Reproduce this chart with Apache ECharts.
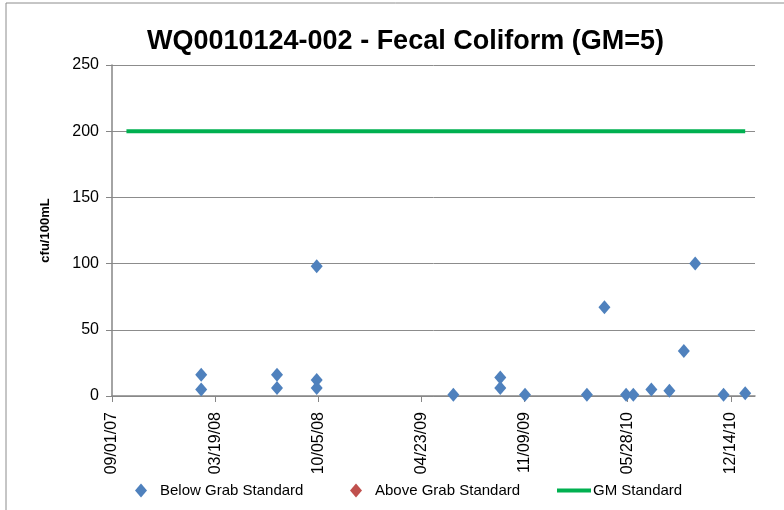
<!DOCTYPE html>
<html>
<head>
<meta charset="utf-8">
<script src="https://cdn.jsdelivr.net/npm/echarts@6/dist/echarts.min.js"></script>
<style>html,body{margin:0;padding:0;background:#fff}#c{width:784px;height:510px}</style>
</head>
<body>
<div id="c"></div>
<script>
var titleText = 'WQ0010124-002 - Fecal Coliform (GM=5)';
var yAxisName = 'cfu/100mL';
var axisStart = '2007-09-01';
var axisEnd = '2011-01-30';
var tickDays = 200;
var yTicks = [0, 50, 100, 150, 200, 250];

var belowDates = ['2008-02-21','2008-02-21','2008-07-17','2008-07-17','2008-10-02','2008-10-02','2008-10-02',
  '2009-06-24','2009-09-23','2009-09-23','2009-11-10','2010-03-10','2010-04-13','2010-05-25','2010-06-08',
  '2010-07-13','2010-08-17','2010-09-14','2010-10-06','2010-11-30','2011-01-11'];
var belowValues = [16,5,16,6,98,12,6,
  1,14,6,1,1,67,1,1,
  5,4,34,100,1,2];
var aboveDates = [];
var aboveValues = [];
var gmDates = ['2007-09-29','2011-01-11'];
var gmValues = [200,200];

var DAY = 86400000;
function toMs(s){var p=s.split('-');return Date.UTC(+p[0],+p[1]-1,+p[2]);}
var t0 = toMs(axisStart);
function off(s){return Math.round((toMs(s)-t0)/DAY);}
function pts(d,v){return d.map(function(x,i){return [off(x),v[i]];});}
function pad(n){return (n<10?'0':'')+n;}
function fmt(days){var d=new Date(t0+days*DAY);return pad(d.getUTCMonth()+1)+'/'+pad(d.getUTCDate())+'/'+pad(d.getUTCFullYear()%100);}

var FONT = '"Liberation Sans Narrow","Liberation Sans",sans-serif';
var chart = echarts.init(document.getElementById('c'), null, {renderer:'canvas'});
chart.setOption({
  animation:false,
  backgroundColor:'#fff',
  graphic:[{type:'rect',shape:{x:6,y:3,width:800,height:520},style:{fill:'none',stroke:'#8c8c8c',lineWidth:1},silent:true}],
  title:{text:titleText,left:142,top:23,textStyle:{fontFamily:FONT,fontSize:27,fontWeight:'bold',color:'#000'}},
  grid:{left:112,right:29,top:65,bottom:114},
  xAxis:{type:'value',min:0,max:off(axisEnd),interval:tickDays,
    axisLine:{show:true,onZero:false,lineStyle:{color:'#868686',width:1.5}},
    axisTick:{show:true,length:6,lineStyle:{color:'#868686'}},
    splitLine:{show:false},
    axisLabel:{rotate:90,margin:16,showMaxLabel:false,formatter:fmt,fontFamily:FONT,fontSize:16,color:'#000'}},
  yAxis:{type:'value',min:yTicks[0],max:yTicks[yTicks.length-1],interval:yTicks[1]-yTicks[0],
    name:yAxisName,nameLocation:'middle',nameGap:60,nameRotate:90,
    nameTextStyle:{fontFamily:FONT,fontSize:13,fontWeight:'bold',color:'#000'},
    axisLine:{show:true,lineStyle:{color:'#868686',width:1.5}},
    axisTick:{show:true,length:6,lineStyle:{color:'#868686'}},
    splitLine:{show:true,lineStyle:{color:'#8c8c8c',width:1}},
    axisLabel:{margin:13,fontFamily:FONT,fontSize:16,color:'#000'}},
  legend:[
    {left:130,top:478,itemWidth:12,itemHeight:14,textStyle:{fontFamily:FONT,fontSize:15,color:'#000',padding:[0,0,0,8]},data:[{name:'Below Grab Standard',icon:'diamond'}]},
    {left:345,top:478,itemWidth:12,itemHeight:14,textStyle:{fontFamily:FONT,fontSize:15,color:'#000',padding:[0,0,0,8]},data:[{name:'Above Grab Standard',icon:'diamond'}]},
    {left:552,top:478,itemWidth:34,itemHeight:4,textStyle:{fontFamily:FONT,fontSize:15,color:'#000',padding:[0,0,0,-3]},data:[{name:'GM Standard',icon:'rect'}]}
  ],
  series:[
    {name:'Below Grab Standard',type:'scatter',symbol:'diamond',symbolSize:[12,14],itemStyle:{color:'#4F81BD',opacity:1},data:pts(belowDates,belowValues),z:3},
    {name:'Above Grab Standard',type:'scatter',symbol:'diamond',symbolSize:[12,14],itemStyle:{color:'#C0504D',opacity:1},data:pts(aboveDates,aboveValues),z:3},
    {name:'GM Standard',type:'line',showSymbol:false,symbol:'none',lineStyle:{color:'#00B050',width:4},itemStyle:{color:'#00B050'},data:pts(gmDates,gmValues),z:2}
  ]
});
</script>
</body>
</html>
